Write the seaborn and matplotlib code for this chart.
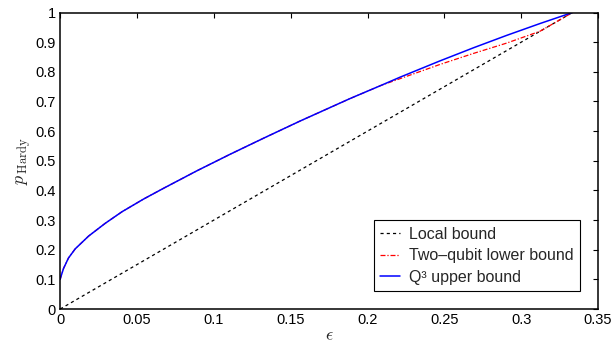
import numpy as np
import pandas as pd
import matplotlib
matplotlib.use("Agg")
import matplotlib.pyplot as plt
import seaborn as sns

# values
eps_local = [0.0, 1/3]
p_local = [0.0, 1.0]

eps_q3 = [0.0, 0.00065, 0.0022, 0.0054, 0.0098, 0.0185, 0.0293, 0.0402,
          0.0543, 0.0672, 0.0889, 0.1106, 0.1323, 0.1561, 0.1887, 0.2087,
          0.2212, 0.2472, 0.2689, 0.2906, 0.3123, 1/3]
p_q3 = [0.1, 0.112, 0.137, 0.172, 0.203, 0.246, 0.289, 0.328,
        0.371, 0.407, 0.466, 0.522, 0.576, 0.634, 0.710, 0.754,
        0.782, 0.837, 0.881, 0.923, 0.963, 1.0]

eps_two = [0.0, 0.00065, 0.0022, 0.0054, 0.0098, 0.0185, 0.0293, 0.0402,
           0.0543, 0.0672, 0.0889, 0.1106, 0.1323, 0.1561, 0.1887, 0.2087,
           0.2212, 0.2472, 0.2689, 0.2906, 0.3123, 1/3]
p_two = [0.1, 0.112, 0.137, 0.172, 0.203, 0.246, 0.289, 0.328,
         0.371, 0.407, 0.466, 0.522, 0.576, 0.634, 0.710, 0.754,
         0.777, 0.825, 0.862, 0.897, 0.937, 1.0]

xticks = [0, 0.05, 0.1, 0.15, 0.2, 0.25, 0.3, 0.35]
xticklabels = ["0", "0.05", "0.1", "0.15", "0.2", "0.25", "0.3", "0.35"]
yticks = [0, 0.1, 0.2, 0.3, 0.4, 0.5, 0.6, 0.7, 0.8, 0.9, 1]
yticklabels = ["0", "0.1", "0.2", "0.3", "0.4", "0.5", "0.6", "0.7", "0.8", "0.9", "1"]

sns.set_style("white")
plt.rcParams['font.family'] = ['Liberation Sans', 'DejaVu Sans']
plt.rcParams['mathtext.fontset'] = 'cm'

fig = plt.figure(figsize=(6.14, 3.48), dpi=100)
ax = fig.add_axes([0.098, 0.112, 0.876, 0.852])

df_local = pd.DataFrame({"eps": eps_local, "p": p_local})
df_two = pd.DataFrame({"eps": eps_two, "p": p_two})
df_q3 = pd.DataFrame({"eps": eps_q3, "p": p_q3})

sns.lineplot(data=df_local, x="eps", y="p", ax=ax, color="black", lw=0.9,
             sort=False, estimator=None, label="Local bound")
ax.lines[-1].set_dashes([2.5, 2.5])
sns.lineplot(data=df_two, x="eps", y="p", ax=ax, color="red", lw=0.9,
             sort=False, estimator=None, label="Two\u2013qubit lower bound")
ax.lines[-1].set_dashes([4, 1.5, 1, 1.5])
sns.lineplot(data=df_q3, x="eps", y="p", ax=ax, color="blue", lw=1.1,
             sort=False, estimator=None, label="Q\u00b3 upper bound")

ax.set_xlim(0, 0.35)
ax.set_ylim(0, 1)
ax.set_xticks(xticks)
ax.set_xticklabels(xticklabels)
ax.set_yticks(yticks)
ax.set_yticklabels(yticklabels)
ax.tick_params(direction="in", top=True, right=True, length=3.5, width=0.8,
               labelsize=10.5, colors="black", pad=3)
for s in ax.spines.values():
    s.set_visible(True)
    s.set_color("black")
    s.set_linewidth(1.1)

ax.set_xlabel(r"$\epsilon$", fontsize=13, labelpad=0)
ax.set_ylabel(r"$p_{\,\mathrm{Hardy}}$", fontsize=13, labelpad=2)

leg = ax.legend(loc="lower right", bbox_to_anchor=(0.972, 0.05), fontsize=11.5,
                handlelength=1.25, handletextpad=0.55, labelspacing=0.4,
                borderpad=0.4, borderaxespad=0.2, fancybox=False, framealpha=1,
                edgecolor="black")
leg.get_frame().set_linewidth(0.8)

fig.savefig("out.png", dpi=100)
